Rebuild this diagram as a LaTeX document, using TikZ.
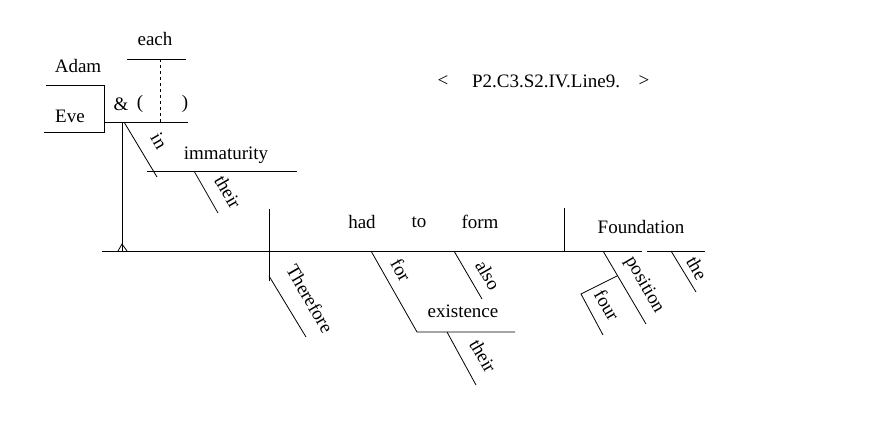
\documentclass[tikz,border=0pt]{standalone}
\usepackage{fontspec}
\setmainfont{Liberation Serif}
\begin{document}
\begin{tikzpicture}[x=1pt,y=1pt,
  word/.style={inner sep=0pt, font=\fontsize{19}{22}\selectfont},
  slantword/.style={word, rotate=-60},
  ln/.style={line width=0.8pt}]
\useasboundingbox (0,0) rectangle (890,-421);
% coordinates
\coordinate (eachL) at (127,-59); \coordinate (eachR) at (186,-59);
\coordinate (dashT) at (160,-59); \coordinate (dashB) at (160,-122);
\coordinate (adamL) at (46,-85); \coordinate (adamR) at (104,-85);
\coordinate (eveL) at (44,-132); \coordinate (eveR) at (104,-132);
\coordinate (subjL) at (104,-122); \coordinate (subjR) at (188,-122);
\coordinate (subjV) at (122,-122); \coordinate (subjB) at (122,-251);
\coordinate (caretL) at (118,-251); \coordinate (caretT) at (122,-244); \coordinate (caretR) at (127,-251);
\coordinate (inT) at (124,-122); \coordinate (inB) at (157,-177);
\coordinate (immL) at (147,-171); \coordinate (immR) at (297,-171);
\coordinate (their1T) at (194,-171); \coordinate (their1B) at (218,-213);
\coordinate (baseL) at (102,-251); \coordinate (baseM) at (642,-251);
\coordinate (base2L) at (647,-251); \coordinate (base2R) at (705,-251);
\coordinate (divT) at (269,-209); \coordinate (divB) at (269,-281);
\coordinate (thT) at (269,-276); \coordinate (thB) at (306,-337);
\coordinate (forT) at (371,-251); \coordinate (forB) at (417,-332);
\coordinate (exR) at (515,-332);
\coordinate (their2T) at (447,-332); \coordinate (their2B) at (476,-385);
\coordinate (alsoT) at (454,-251); \coordinate (alsoB) at (482,-299);
\coordinate (doT) at (564,-208); \coordinate (doB) at (564,-251);
\coordinate (posT) at (603,-251); \coordinate (posB) at (646,-324);
\coordinate (fourA) at (617,-276); \coordinate (fourK) at (581,-294); \coordinate (fourB) at (603,-335);
\coordinate (theT) at (671,-251); \coordinate (theB) at (696,-292);
% lines
\draw[ln] (eachL) -- (eachR);
\draw[ln, dashed] (dashT) -- (dashB);
\draw[ln] (adamL) -- (adamR) -- (eveR) -- (eveL);
\draw[ln] (subjL) -- (subjR);
\draw[ln] (subjV) -- (subjB);
\draw[ln] (caretL) -- (caretT) -- (caretR);
\draw[ln] (inT) -- (inB);
\draw[ln] (immL) -- (immR);
\draw[ln] (their1T) -- (their1B);
\draw[ln] (baseL) -- (baseM);
\draw[ln] (base2L) -- (base2R);
\draw[ln] (divT) -- (divB);
\draw[ln] (thT) -- (thB);
\draw[ln] (forT) -- (forB) -- (exR);
\draw[ln] (their2T) -- (their2B);
\draw[ln] (alsoT) -- (alsoB);
\draw[ln] (doT) -- (doB);
\draw[ln] (posT) -- (posB);
\draw[ln] (fourA) -- (fourK) -- (fourB);
\draw[ln] (theT) -- (theB);
% words
\node[word] (each) at (155,-39) {each};
\node[word] (adam) at (78,-66) {Adam};
\node[word] (eve) at (70,-116) {Eve};
\node[word] (amp) at (121,-104) {\&};
\node[word] (lp) at (140,-104) {(};
\node[word] (rp) at (185,-104) {)};
\node[slantword] (in) at (159,-141) {in};
\node[word] (imm) at (226,-155) {immaturity};
\node[slantword] (their1) at (228,-192) {their};
\node[word] (had) at (362,-222) {had};
\node[word] (to) at (419,-222) {to};
\node[word] (form) at (480,-222) {form};
\node[slantword] (therefore) at (310,-299) {Therefore};
\node[slantword] (for) at (401,-270) {for};
\node[slantword] (also) at (488,-275) {also};
\node[word] (existence) at (463,-311) {existence};
\node[slantword] (their2) at (483,-356) {their};
\node[word] (foundation) at (641,-227) {Foundation};
\node[slantword] (position) at (644,-285) {position};
\node[slantword] (four) at (607,-305) {four};
\node[slantword] (the) at (697,-268) {the};
\node[word] (lab1) at (443,-81) {<};
\node[word] (lab2) at (546,-81) {P2.C3.S2.IV.Line9.};
\node[word] (lab3) at (644,-81) {>};
\end{tikzpicture}
\end{document}
